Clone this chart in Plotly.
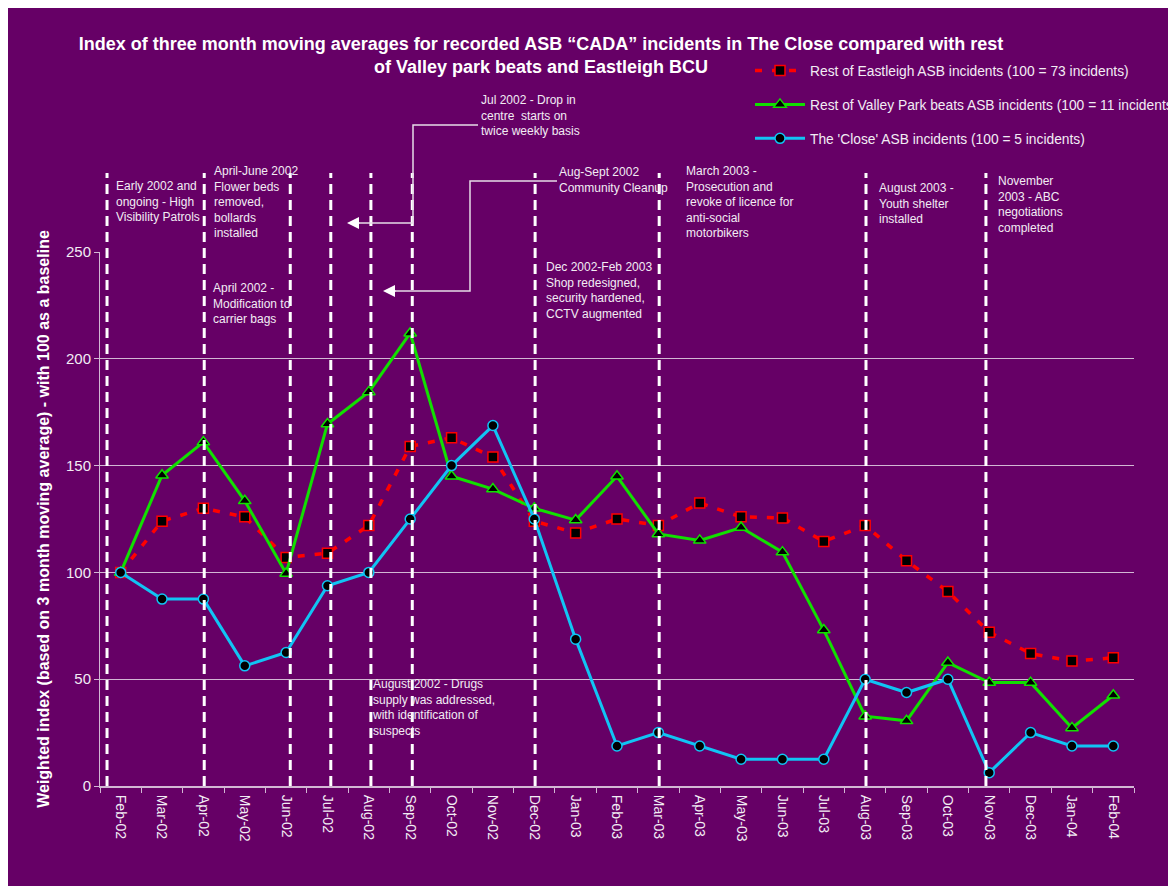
import plotly.graph_objects as go

months = ["Feb-02", "Mar-02", "Apr-02", "May-02", "Jun-02", "Jul-02", "Aug-02", "Sep-02",
          "Oct-02", "Nov-02", "Dec-02", "Jan-03", "Feb-03", "Mar-03", "Apr-03", "May-03",
          "Jun-03", "Jul-03", "Aug-03", "Sep-03", "Oct-03", "Nov-03", "Dec-03", "Jan-04", "Feb-04"]

eastleigh = [100, 124, 130, 126, 107, 109, 122, 159, 163, 154, 124, 118.5, 125, 122, 132.5,
             126, 125.5, 114.5, 122, 105.5, 91, 72, 62, 58.5, 60]
valley_park = [100, 145.5, 161, 133.5, 99.5, 169.5, 184.5, 212, 145, 139, 130, 124.5, 145, 118,
               115, 121, 109.5, 73, 32.7, 30.5, 57.8, 48.4, 48.4, 27.2, 42.5]
the_close = [100, 87.5, 87.5, 56.25, 62.5, 93.75, 100, 125, 150, 168.75, 125, 68.75, 18.75, 25,
             18.75, 12.5, 12.5, 12.5, 50, 43.75, 50, 6.25, 25, 18.75, 18.75]

y_ticks = [0, 50, 100, 150, 200, 250]

# Intervention marker positions (category index)
event_positions = [-0.33, 2.02, 4.1, 5.08, 6.05, 7.05, 10.02, 13.02, 18.02, 20.92]

BG = "#660066"
TXT = "#f2ecf4"
GRID = "#d2b8d4"
FONT = "Liberation Sans, Arial, sans-serif"

OFF = 8  # page body margin
W, H = 1260, 886   # wider than the window so the legend never pushes the margins
# plot area in screen pixels
SL, SR, SB, ST = 100, 1134, 786, 252
L, R, B, T = SL - OFF, SR - OFF, SB - OFF, ST - OFF

def px(x):
    return (x - SL) / (SR - SL)
def py(y):
    return (SB - y) / (SB - ST)

fig = go.Figure()
fig.add_trace(go.Scatter(
    x=months, y=eastleigh, mode="lines+markers",
    name="Rest of Eastleigh ASB incidents (100 = 73 incidents)",
    legendgroup="a",
    line=dict(color="#ff0000", width=3.5, dash="7px,10px"),
    marker=dict(symbol="square", size=10, color="#000000", line=dict(color="#ff0000", width=1.5)),
))
fig.add_trace(go.Scatter(
    x=months, y=valley_park, mode="lines+markers",
    name="Rest of Valley Park beats ASB incidents (100 = 11 incidents)",
    legendgroup="b",
    line=dict(color="#11e000", width=3),
    marker=dict(symbol="triangle-up", size=11, color="#000000", line=dict(color="#11e000", width=1.5)),
))
fig.add_trace(go.Scatter(
    x=months, y=the_close, mode="lines+markers",
    name="The 'Close' ASB incidents (100 = 5 incidents)",
    legendgroup="c",
    line=dict(color="#11c4f4", width=3),
    marker=dict(symbol="circle", size=10, color="#000000", line=dict(color="#11c4f4", width=1.5)),
))

shapes = []
for pos in event_positions:
    shapes.append(dict(type="line", xref="x", yref="paper", x0=pos, x1=pos,
                       y0=0, y1=py(173), layer="above",
                       line=dict(color="#ffffff", width=3, dash="10px,6px")))

# connector lines for the arrows
shapes.append(dict(type="path", xref="paper", yref="paper", layer="above",
                   path=f"M {px(478)},{py(125)} L {px(413)},{py(125)} L {px(413)},{py(223)} L {px(356)},{py(223)}",
                   line=dict(color="#e6dce8", width=1.5)))
shapes.append(dict(type="path", xref="paper", yref="paper", layer="above",
                   path=f"M {px(557)},{py(181)} L {px(470)},{py(181)} L {px(470)},{py(291)} L {px(392)},{py(291)}",
                   line=dict(color="#e6dce8", width=1.5)))

notes = [
    (114, 177, "Early 2002 and<br>ongoing - High<br>Visibility Patrols"),
    (212, 162, "April-June 2002<br>Flower beds<br>removed,<br>bollards<br>installed"),
    (211, 279, "April 2002 -<br>Modification to<br>carrier bags"),
    (479, 91, "Jul 2002 - Drop in<br>centre  starts on<br>twice weekly basis"),
    (557, 163, "Aug-Sept 2002<br>Community Cleanup"),
    (544, 258, "Dec 2002-Feb 2003<br>Shop redesigned,<br>security hardened,<br>CCTV augmented"),
    (684, 162, "March 2003 -<br>Prosecution and<br>revoke of licence for<br>anti-social<br>motorbikers"),
    (877, 179, "August 2003 -<br>Youth shelter<br>installed"),
    (996, 172, "November<br>2003 - ABC<br>negotiations<br>completed"),
    (370, 675, "August 2002 - Drugs<br>supply was addressed,<br>with identification of<br>suspects"),
]
annotations = []
for x0, y0, t in notes:
    annotations.append(dict(xref="paper", yref="paper", x=px(x0), y=py(y0),
                            xanchor="left", yanchor="top", align="left", showarrow=False,
                            text=t, font=dict(family=FONT, size=12, color=TXT)))

# arrowheads
for tipx, tipy in [(347, 223), (383, 291)]:
    annotations.append(dict(xref="paper", yref="paper", x=px(tipx), y=py(tipy),
                            ax=14, ay=0, axref="pixel", ayref="pixel", text="",
                            showarrow=True, arrowhead=2, arrowsize=1.6, arrowwidth=1.5,
                            arrowcolor="#ffffff"))

fig.update_layout(
    width=W, height=H,
    paper_bgcolor=BG, plot_bgcolor=BG,
    margin=dict(l=L, r=W - R, t=T, b=H - B),
    font=dict(family=FONT, color=TXT, size=13),
    title=dict(
        text="Index of three month moving averages for recorded ASB “CADA” incidents in The Close compared with rest<br>of Valley park beats and Eastleigh BCU",
        x=(541 - OFF) / W, xref="container", xanchor="center",
        y=1 - 42 / H, yref="container", yanchor="top",
        font=dict(family=FONT, size=18, color="#ffffff", weight="bold"),
    ),
    showlegend=True,
    legend=dict(x=px(750), y=py(55), xanchor="left", yanchor="top",
                bgcolor="rgba(0,0,0,0)", font=dict(family=FONT, size=13.8, color=TXT),
                tracegroupgap=13, itemwidth=50),
    shapes=shapes,
    annotations=annotations,
)

fig.update_xaxes(
    type="category", range=[-0.5, len(months) - 0.5],
    tickangle=90, ticks="outside", ticklen=5, tickcolor=GRID, tickson="boundaries",
    showline=True, linecolor=GRID, linewidth=2, showgrid=False, ticklabelstandoff=4,
    tickfont=dict(family=FONT, size=14, color=TXT), automargin=False,
)
fig.update_yaxes(
    range=[0, 250], tickvals=y_ticks, ticks="outside", ticklen=5, tickcolor=GRID,
    showline=True, linecolor=GRID, linewidth=1, showgrid=True, gridcolor=GRID, gridwidth=1,
    zeroline=False, tickfont=dict(family=FONT, size=15, color=TXT), automargin=False,
    title=dict(text="<b>Weighted index (based on 3 month moving average) - with 100 as a baseline</b>",
               font=dict(family=FONT, size=16, color="#ffffff"), standoff=12),
)

fig.write_html("out.html")
